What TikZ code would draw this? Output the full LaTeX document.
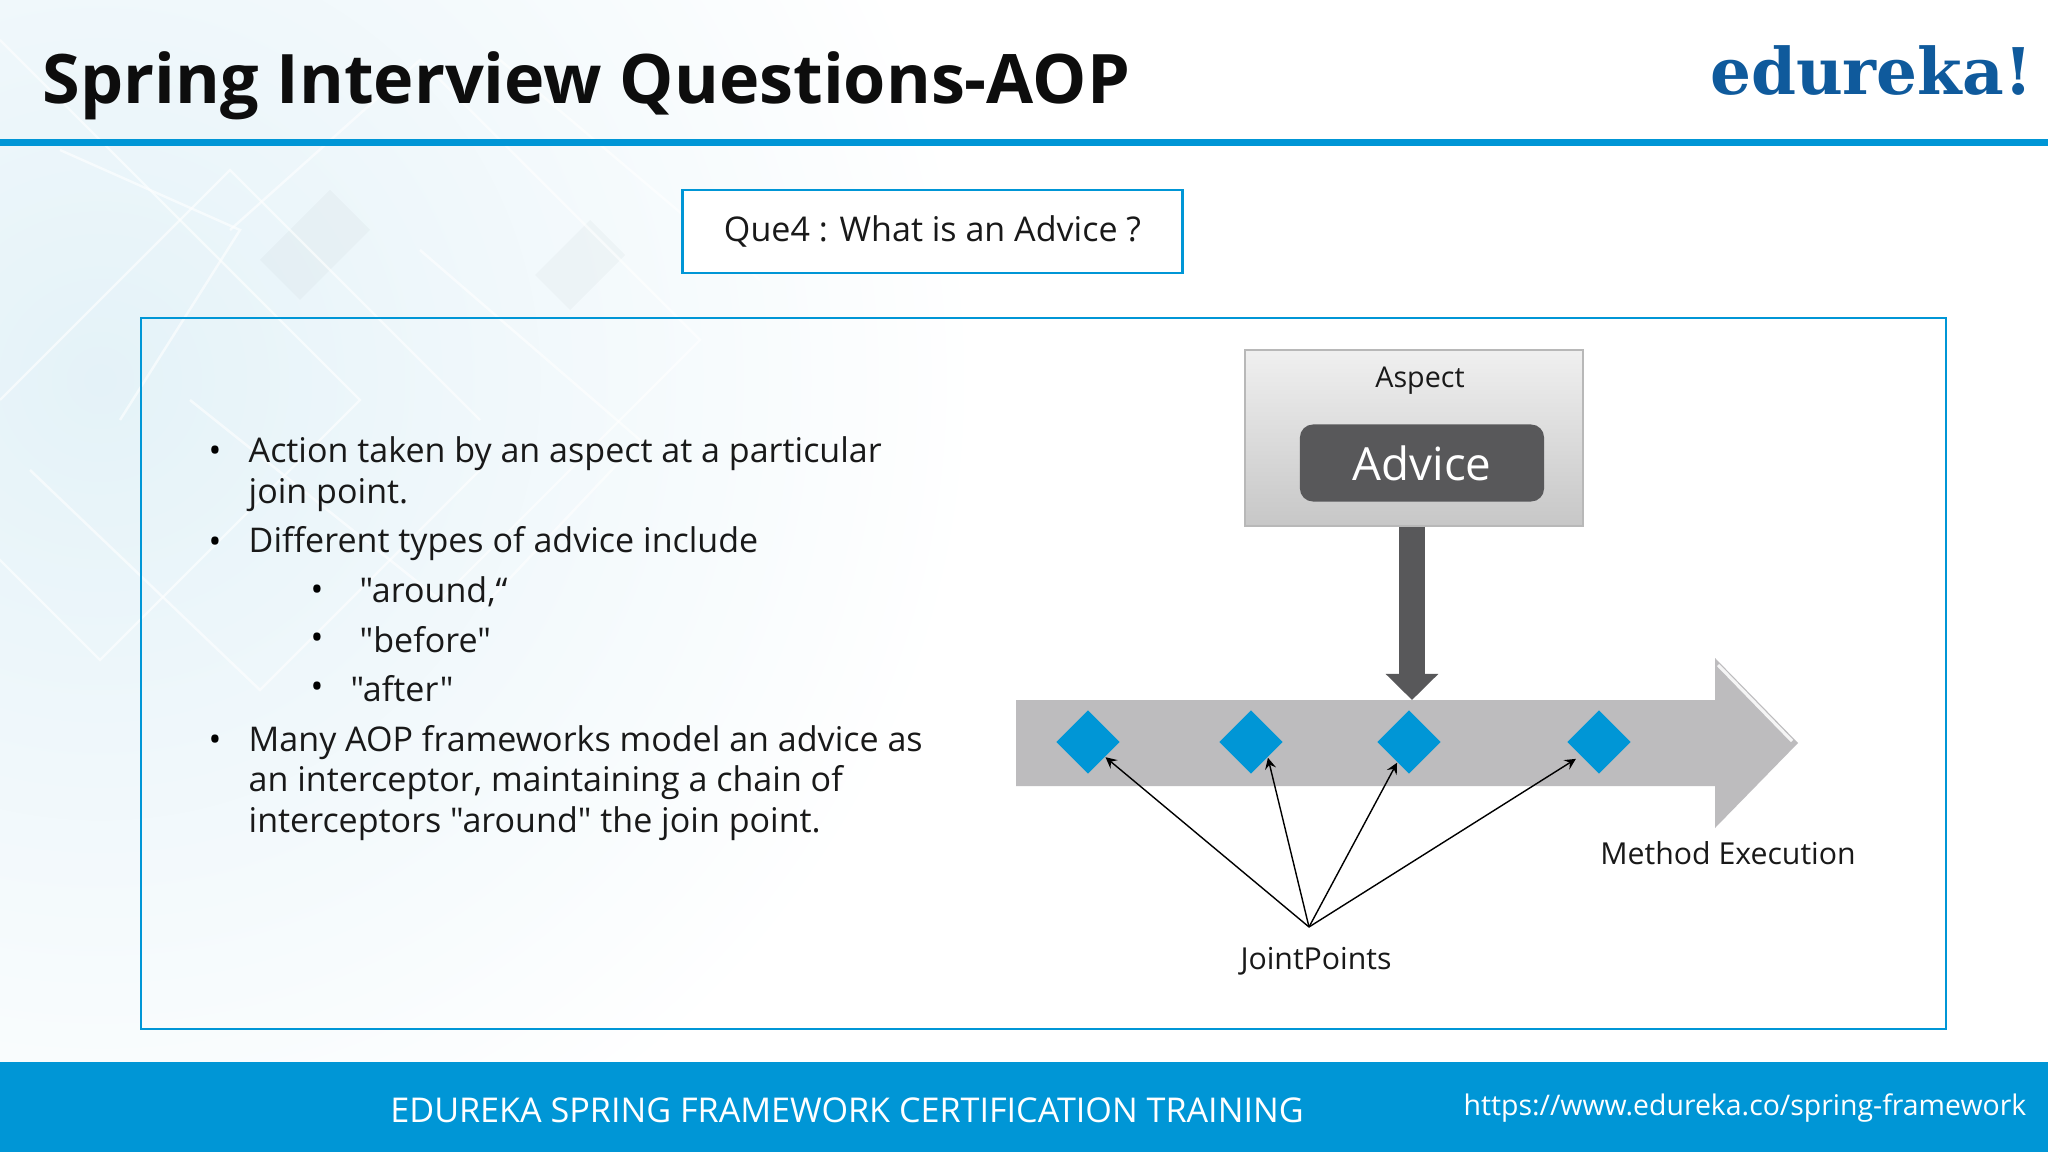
\documentclass[tikz,border=0pt]{standalone}
\usepackage{fontspec}
\setmainfont{Open Sans}[Ligatures=TeXOff]
\newfontfamily\logofont{DejaVu Serif}
\usetikzlibrary{arrows.meta,shapes.geometric}
\definecolor{edublue}{HTML}{0096D6}
\definecolor{logoblue}{HTML}{0F5A9C}
\definecolor{advicegray}{HTML}{58585A}
\definecolor{trackgray}{HTML}{BDBCBE}
\definecolor{paleblue}{HTML}{E4F2F8}
\tikzset{
	bullettext/.style={anchor=west,align=left,inner sep=0pt,font=\fontsize{9.68}{11.6}\selectfont,text=black!90},
	dot/.style={inner sep=0pt,font=\fontsize{9.68}{11.6}\selectfont},
	label/.style={inner sep=0pt,font=\fontsize{8.6}{10}\selectfont,text=black!90},
	joint/.style={diamond,fill=edublue,inner sep=0pt,minimum width=0.64cm,minimum height=0.64cm},
	pointer/.style={thin,black,-stealth},
	bgline/.style={white,line width=0.7pt,opacity=0.6},
	bgpatch/.style={fill=black!45!paleblue,opacity=0.05}
}
\begin{document}
\begin{tikzpicture}[x=0.01cm,y=-0.01cm]
		\useasboundingbox (0,0) rectangle (2048,1152);
		\fill[white] (0,0) rectangle (2048,1152);
		\begin{scope}
		\clip (0,0) rectangle (2048,1152);
		\shade[inner color=paleblue,outer color=white] (100,380) circle (880);
		\fill[bgpatch] (330,190) -- (370,230) -- (300,300) -- (260,260) -- cycle;
		\fill[bgpatch] (590,220) -- (625,255) -- (570,310) -- (535,275) -- cycle;
		\draw[bgline] (0,40) -- (360,400) -- (100,660) -- (-200,360);
		\draw[bgline] (60,150) -- (240,230) -- (120,420);
		\draw[bgline] (230,230) -- (420,60) -- (700,340) -- (440,600) -- (190,400);
		\draw[bgline] (30,470) -- (260,690) -- (480,470);
		\draw[bgline] (420,250) -- (640,440) -- (480,610);
		\draw[bgline] (0,400) -- (230,170) -- (480,420);
		\draw[bgline] (500,60) -- (760,280);
		\end{scope}
		\node[inner sep=0pt,anchor=base west,font=\fontsize{19.42}{23}\selectfont\bfseries,text=black!95] (title) at (42,104) {Spring Interview Questions-AOP};
		\node[inner sep=0pt,anchor=base east,font=\fontsize{18.3}{21}\logofont\bfseries,text=logoblue] (logo) at (2033,95) {edureka!};
		\fill[edublue] (0,139.5) rectangle (2048,146);
		\node[draw=edublue,line width=0.8pt,fill=white,minimum width=4.99cm,minimum height=0.83cm,inner sep=0pt,font=\fontsize{9.68}{11.6}\selectfont,text=black!90] (question) at (932.5,231.5) {\raisebox{-1pt}{Que4 : What is an Advice ?}};
		\draw[edublue,line width=0.8pt] (141,318) rectangle (1946,1029);
		\node[dot] (dota) at (215,454) {•};
		\node[bullettext] (texta) at (248,474) {Action taken by an aspect at a particular\\join point.};
		\node[dot] (dotb) at (215,545) {•};
		\node[bullettext] (textb) at (248,544) {Different types of advice include};
		\node[dot] (dotc) at (317,593) {•};
		\node[bullettext] (textc) at (359,592) {"around,“};
		\node[dot] (dotd) at (317,641) {•};
		\node[bullettext] (textd) at (359,640) {"before"};
		\node[dot] (dote) at (317,690) {•};
		\node[bullettext] (texte) at (350,689) {"after"};
		\node[dot] (dotf) at (215,743) {•};
		\node[bullettext] (textf) at (248,783) {Many AOP frameworks model an advice as\\an interceptor, maintaining a chain of\\interceptors "around" the join point.};
		\node[rectangle,draw=black!28,top color=black!6,bottom color=black!22,minimum width=3.38cm,minimum height=1.76cm,inner sep=0pt] (aspect) at (1414,438) {};
		\node[inner sep=0pt,font=\fontsize{8.15}{10}\selectfont,text=black!90] (aspectlabel) at (1420,381) {Aspect};
		\node[fill=advicegray,rounded corners=0.13cm,minimum width=2.44cm,minimum height=0.77cm,inner sep=0pt,text=white,font=\fontsize{13}{16}\selectfont] (advice) at (1422,463) {\raisebox{-1pt}{Advice}};
		\fill[trackgray] (1016,700) -- (1715,700) -- (1715,658) -- (1798,743) -- (1715,828) -- (1715,786) -- (1016,786) -- cycle;
		\draw[white,line width=0.9pt,opacity=0.85] (1718,665) -- (1792,741);
		\coordinate (downtip) at (1412,700);
		\draw[advicegray,line width=0.26cm,-{Triangle[width=0.51cm,length=0.26cm]}] (aspect.south -| downtip) -- (downtip);
		\node[joint] (jointa) at (1088,742) {};
		\node[joint] (jointb) at (1251,742) {};
		\node[joint] (jointc) at (1409,742) {};
		\node[joint] (jointd) at (1599,742) {};
		\coordinate (fan) at (1309,927);
		\draw[pointer] (fan) -- (jointa.-41);
		\draw[pointer] (fan) -- (jointb.-43);
		\draw[pointer] (fan) -- (jointc.-120);
		\draw[pointer,shorten >=1.5pt] (fan) -- (jointd.-143);
		\node[label] (methodlabel) at (1728,853) {Method Execution};
		\node[label] (jointlabel) at (1316,961) {JointPoints};
		\fill[edublue] (0,1062) rectangle (2048,1152);
		\node[inner sep=0pt,text=white,font=\fontsize{9.71}{12}\selectfont] (footer) at (847,1110) {EDUREKA SPRING FRAMEWORK CERTIFICATION TRAINING};
		\node[inner sep=0pt,anchor=east,text=white,font=\fontsize{8.08}{11}\selectfont] (url) at (2027,1108) {https://www.edureka.co/spring-framework};
		\end{tikzpicture}
\end{document}
